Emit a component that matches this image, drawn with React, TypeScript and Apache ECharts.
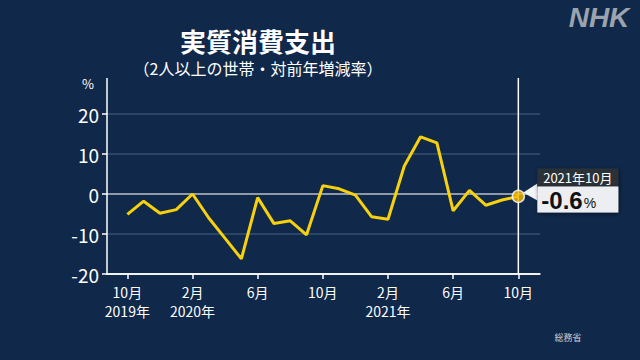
import React, { useEffect, useRef } from "react";
import * as echarts from "echarts";

// Months from Oct 2019 (index 0) to Oct 2021 (index 24)
const monthIndex = [0,1,2,3,4,5,6,7,8,9,10,11,12,13,14,15,16,17,18,19,20,21,22,23,24];
const spending = [-5.1,-1.8,-4.8,-3.9,0.0,-6.0,-11.1,-16.2,-0.9,-7.4,-6.7,-10.2,2.1,1.3,-0.3,-5.7,-6.3,7.0,14.3,12.8,-4.2,0.9,-2.8,-1.5,-0.6];
const xTickValues = [0,4,8,12,16,20,24];
const xTickLabels = ["10月\n2019年","2月\n2020年","6月","10月","2月\n2021年","6月","10月"];
const yTickLabels = [-20,-10,0,10,20];
const lastLabelDate = "2021年10月";
const lastLabelValue = "-0.6";

const FONT = "'Noto Sans CJK JP', 'Noto Sans', sans-serif";

export default function App() {
  const ref = useRef<HTMLDivElement>(null);
  useEffect(() => {
    document.body.style.margin = "0";
    const chart = echarts.init(ref.current!, null, { renderer: "svg" });
    const lineData = monthIndex.map((m, i) => [m, spending[i]]);
    const last = lineData[lineData.length - 1];
    chart.setOption({
      animation: false,
      backgroundColor: "#10284a",
      textStyle: { fontFamily: FONT },
      grid: { left: 107, right: 100, top: 114, bottom: 86 },
      xAxis: {
        type: "value",
        min: -1.25,
        max: 25.33,
        axisLine: { onZero: false, lineStyle: { color: "#ffffff", width: 1.5 } },
        axisTick: { show: true, customValues: xTickValues, length: 5, lineStyle: { color: "#ffffff", width: 1.5 } },
        axisLabel: {
          customValues: xTickValues,
          color: "#ffffff",
          fontSize: 14,
          lineHeight: 19,
          margin: 8,
          formatter: (v: number) => xTickLabels[xTickValues.indexOf(Math.round(v))] || "",
        },
        splitLine: { show: false },
      },
      yAxis: {
        type: "value",
        min: -20,
        max: 20,
        interval: 10,
        axisLine: { show: true, onZero: false, lineStyle: { color: "#ffffff", width: 1.5 } },
        axisTick: { show: true, length: 5, lineStyle: { color: "#ffffff", width: 1.5 } },
        axisLabel: {
          color: "#ffffff",
          fontSize: 19,
          margin: 8,
          formatter: (v: number) => (yTickLabels.includes(v) ? String(v) : ""),
        },
        splitLine: {
          show: true,
          lineStyle: { color: ["#ffffff", "#34506f", "#b9c0ca", "#34506f", "#34506f"], width: 1.5 },
        },
      },
      series: [
        {
          type: "line",
          data: lineData,
          symbol: "none",
          lineStyle: { color: "#f7d10c", width: 3 },
          z: 3,
        },
        {
          type: "scatter",
          data: [last],
          symbolSize: 12,
          itemStyle: { color: "#f5b800", borderColor: "#ffffff", borderWidth: 1.5 },
          z: 5,
        },
      ],
    });

    const [px, py] = chart.convertToPixel({ gridIndex: 0 }, last) as number[];
    const [, topY] = chart.convertToPixel({ gridIndex: 0 }, [last[0], 20]) as number[];
    const [, bottomY] = chart.convertToPixel({ gridIndex: 0 }, [last[0], -20]) as number[];
    const [axisX] = chart.convertToPixel({ gridIndex: 0 }, [-1.25, 0]) as number[];

    chart.setOption({
      graphic: [
        { type: "line", z: 1, shape: { x1: px, y1: topY - 36, x2: px, y2: bottomY }, style: { stroke: "#ffffff", lineWidth: 1.5 } },
        { type: "line", shape: { x1: axisX, y1: topY - 36, x2: axisX, y2: topY }, style: { stroke: "#ffffff", lineWidth: 1.5 } },
        { type: "text", x: 88, y: 83, style: { text: "%", fill: "#ffffff", font: `13px ${FONT}`, textAlign: "center", textVerticalAlign: "middle" } },
        { type: "text", x: 258, y: 40, style: { text: "実質消費支出", fill: "#ffffff", font: `bold 26px ${FONT}`, textAlign: "center", textVerticalAlign: "middle" } },
        { type: "text", x: 258, y: 68, style: { text: "（2人以上の世帯・対前年増減率）", fill: "#ffffff", font: `16px ${FONT}`, textAlign: "center", textVerticalAlign: "middle" } },
        { type: "text", x: 599, y: 17, style: { text: "NHK", fill: "#9aa3ae", font: `italic bold 28px 'Liberation Sans', Arial, sans-serif`, textAlign: "center", textVerticalAlign: "middle" } },
        { type: "text", x: 568, y: 337, style: { text: "総務省", fill: "#c8cdd4", font: `9px ${FONT}`, textAlign: "center", textVerticalAlign: "middle" } },
        {
          type: "group",
          x: px,
          y: py,
          children: [
            { type: "polygon", shape: { points: [[5, -4], [19, -13], [19, 4]] }, style: { fill: "#f4f5f7" } },
            { type: "rect", shape: { x: 19, y: -28, width: 81, height: 19 }, style: { fill: "#2b3038", shadowBlur: 4, shadowColor: "rgba(0,0,0,0.5)", shadowOffsetX: 1, shadowOffsetY: 1 } },
            { type: "rect", shape: { x: 19, y: -10, width: 81, height: 26 }, style: { fill: "#eceef1", shadowBlur: 4, shadowColor: "rgba(0,0,0,0.5)", shadowOffsetX: 1, shadowOffsetY: 1 } },
            { type: "text", x: 59.5, y: -18.5, style: { text: lastLabelDate, fill: "#ffffff", font: `13px ${FONT}`, textAlign: "center", textVerticalAlign: "middle" } },
            {
              type: "text",
              x: 23,
              y: 4,
              style: {
                text: `{a|${lastLabelValue}}{b|%}`,
                textVerticalAlign: "middle",
                rich: {
                  a: { fill: "#111111", fontSize: 24, fontWeight: "bold", fontFamily: "'Liberation Sans', Arial, sans-serif" },
                  b: { fill: "#111111", fontSize: 14, fontFamily: "'Liberation Sans', Arial, sans-serif", padding: [6, 0, 0, 1] },
                },
              },
            },
          ],
        },
      ],
    });
    return () => chart.dispose();
  }, []);
  return <div ref={ref} style={{ width: 640, height: 360 }} />;
}
